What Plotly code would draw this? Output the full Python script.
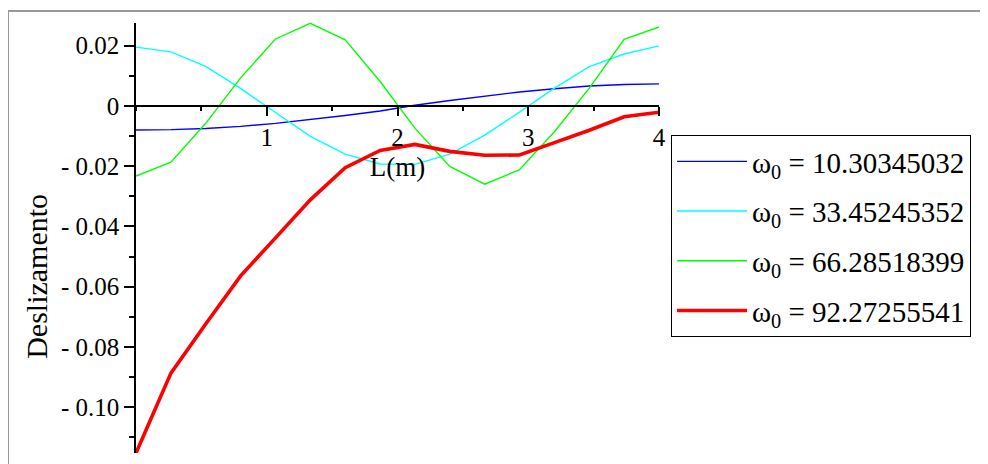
import plotly.graph_objects as go

# Node positions along the beam (m)
L = [0.0, 0.267, 0.533, 0.8, 1.067, 1.333, 1.6, 1.867, 2.133, 2.4, 2.667, 2.933, 3.2, 3.467, 3.733, 4.0]

# Displacement (Deslizamento) per mode
mode1 = [-0.0080, -0.0079, -0.0075, -0.0068, -0.0058, -0.0046, -0.0032, -0.0017,
         0.0002, 0.0018, 0.0033, 0.0046, 0.0057, 0.0066, 0.0071, 0.0073]
mode2 = [0.0195, 0.0179, 0.0131, 0.0058, -0.0022, -0.0101, -0.0160, -0.0193,
         -0.0194, -0.0160, -0.0097, -0.0021, 0.0059, 0.0130, 0.0172, 0.0199]
mode3 = [-0.0233, -0.0187, -0.0058, 0.0093, 0.0222, 0.0274, 0.0219, 0.0081,
         -0.0074, -0.0201, -0.0260, -0.0212, -0.0086, 0.0059, 0.0221, 0.0262]
mode4 = [-0.1152, -0.0887, -0.0724, -0.0564, -0.0438, -0.0312, -0.0205, -0.0148,
         -0.0128, -0.0151, -0.0164, -0.0163, -0.0122, -0.0081, -0.0036, -0.0021]

names = ["ω<sub>0</sub> = 10.30345032", "ω<sub>0</sub> = 33.45245352",
         "ω<sub>0</sub> = 66.28518399", "ω<sub>0</sub> = 92.27255541"]
colors = ["#0000FF", "#00FFFF", "#00FF00", "#FF0000"]
widths = [1.4, 1.4, 1.4, 3.6]

x_tickvals = [1, 2, 3, 4]
x_ticktext = ["1", "2", "3", "4"]
y_tickvals = [-0.10, -0.08, -0.06, -0.04, -0.02, 0, 0.02]
y_ticktext = ["- 0.10", "- 0.08", "- 0.06", "- 0.04", "- 0.02", "0", "0.02"]

YMIN, YMAX = -0.1152, 0.0275
FONT = "Liberation Serif"

fig = go.Figure()
for i, (ys, nm, c, w) in enumerate(zip([mode1, mode2, mode3, mode4], names, colors, widths)):
    fig.add_trace(go.Scatter(x=L, y=ys, mode="lines", name=nm, legendgroup=f"g{i}",
                             line=dict(color=c, width=w)))

zero_pos = (0 - YMIN) / (YMAX - YMIN)

fig.update_layout(
    width=980, height=456,
    margin=dict(l=128, r=329, t=15, b=11),
    paper_bgcolor="white", plot_bgcolor="white",
    font=dict(family=FONT, size=25, color="black"),
    showlegend=True,
    legend=dict(x=1.023, y=0.7395, xanchor="left", yanchor="top",
                bordercolor="black", borderwidth=1, bgcolor="white",
                itemwidth=70, tracegroupgap=9,
                font=dict(family=FONT, size=29, color="black")),
    xaxis=dict(range=[0, 4], anchor="free", position=zero_pos,
               showline=True, linecolor="black", linewidth=1.5,
               showgrid=False, zeroline=False,
               tickvals=x_tickvals, ticktext=x_ticktext,
               ticks="outside", ticklen=9, tickwidth=1.5, tickcolor="black",
               minor=dict(ticks="outside", ticklen=4, dtick=0.5, tickcolor="black", tickwidth=1.5),
               tickfont=dict(family=FONT, size=25),
               title=dict(text="L(m)", font=dict(family=FONT, size=27), standoff=6)),
    yaxis=dict(range=[YMIN, YMAX], showline=True, linecolor="black", linewidth=1.5,
               showgrid=False, zeroline=False,
               tickvals=y_tickvals, ticktext=y_ticktext,
               ticks="outside", ticklen=10, tickwidth=1.5, tickcolor="black",
               minor=dict(ticks="outside", ticklen=5, dtick=0.01, tickcolor="black", tickwidth=1.5),
               tickfont=dict(family=FONT, size=25)),
    annotations=[dict(text="Deslizamento", xref="paper", yref="paper",
                      x=-0.189, y=0.41, xanchor="center", yanchor="middle",
                      textangle=-90, showarrow=False,
                      font=dict(family=FONT, size=30, color="black"))],
    shapes=[
        dict(type="line", xref="paper", yref="paper", x0=-0.2447, x1=1.7, y0=1.0279, y1=1.0279,
             line=dict(color="#999999", width=2)),
        dict(type="line", xref="paper", yref="paper", x0=-0.2447, x1=-0.2447, y0=1.0279, y1=-0.05,
             line=dict(color="#999999", width=2)),
    ],
)

fig.write_html("out.html")
